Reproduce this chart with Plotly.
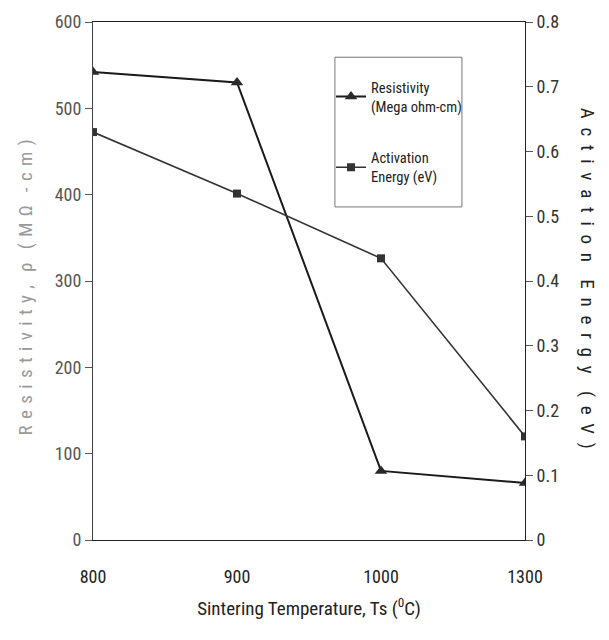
import plotly.graph_objects as go

# ---- data ----
temperatures = ["800", "900", "1000", "1300"]
resistivity = [542, 530, 80, 66]                 # Mega ohm-cm (left axis)
activation_energy = [0.63, 0.535, 0.435, 0.16]   # eV (right axis)
left_ticks = [0, 100, 200, 300, 400, 500, 600]
right_ticks = [0, 0.1, 0.2, 0.3, 0.4, 0.5, 0.6, 0.7, 0.8]

FONT = "Liberation Sans Narrow, Arial Narrow, Roboto Condensed, Roboto, Liberation Sans, Arial, sans-serif"
xpos = list(range(len(temperatures)))


def spaced(text, gap, word_gap):
    """Letter-spaced text (mimics the spaced-out axis titles of the scan)."""
    words = text.split(" ")
    return word_gap.join(gap.join(list(w)) for w in words)


left_title = spaced("Resistivity, ρ (MΩ -cm)", "\u00a0\u200a", "\u00a0\u00a0\u00a0")
right_title = spaced("Activation Energy (eV)", "\u00a0\u00a0", "\u00a0\u00a0\u00a0\u00a0")

fig = go.Figure()
fig.add_trace(go.Scatter(
    x=xpos, y=resistivity, mode="lines+markers",
    name="Resistivity<br>(Mega ohm-cm)", legendgroup="a",
    line=dict(color="#1a1a1a", width=2),
    marker=dict(symbol="triangle-up", size=11, color="#2a2a2a"),
    yaxis="y",
))
fig.add_trace(go.Scatter(
    x=xpos, y=activation_energy, mode="lines+markers",
    name="Activation<br>Energy (eV)", legendgroup="b",
    line=dict(color="#333333", width=1.6),
    marker=dict(symbol="square", size=8, color="#333333"),
    yaxis="y2",
))

fig.update_layout(
    width=609, height=640,
    margin=dict(l=93, r=84, t=22, b=100),
    paper_bgcolor="white", plot_bgcolor="white",
    font=dict(family=FONT, size=16, color="#333"),
    showlegend=True,
    legend=dict(
        x=0.551, y=0.905, xanchor="left", yanchor="top",
        borderwidth=0, bgcolor="rgba(0,0,0,0)",
        font=dict(family=FONT, size=14.5, color="#222"),
        tracegroupgap=30, itemwidth=30,
    ),
    shapes=[dict(type="rect", xref="paper", yref="paper",
                 x0=0.560, x1=0.854, y0=0.643, y1=0.932,
                 line=dict(color="#777", width=1), fillcolor="rgba(0,0,0,0)",
                 layer="below")],
    xaxis=dict(
        range=[0, 3], tickmode="array", tickvals=xpos, ticktext=temperatures,
        showline=True, linecolor="#222", linewidth=1, mirror=True,
        ticks="", showgrid=False, zeroline=False,
        ticklabelstandoff=20,
        tickfont=dict(family=FONT, size=18, color="#222"),
        title=dict(text="Sintering Temperature, Ts (<sup>0</sup>C)",
                   font=dict(family=FONT, size=19, color="#222"), standoff=16),
    ),
    yaxis=dict(
        range=[0, 600], tickmode="array", tickvals=left_ticks,
        showline=True, linecolor="#444", linewidth=1,
        ticks="outside", ticklen=7, tickcolor="#555",
        showgrid=False, zeroline=False,
        tickfont=dict(family=FONT, size=18, color="#555"),
    ),
    yaxis2=dict(
        range=[0, 0.8], tickmode="array", tickvals=right_ticks,
        overlaying="y", side="right",
        showline=True, linecolor="#222", linewidth=1,
        ticks="outside", ticklen=7, tickcolor="#555",
        showgrid=False, zeroline=False,
        tickfont=dict(family=FONT, size=18, color="#333"),
    ),
    annotations=[
        dict(text=left_title,
             xref="paper", yref="paper", x=-0.157, y=0.488,
             xanchor="center", yanchor="middle", textangle=-90, showarrow=False,
             font=dict(family=FONT, size=19, color="#999")),
        dict(text=right_title,
             xref="paper", yref="paper", x=1.145, y=0.505,
             xanchor="center", yanchor="middle", textangle=90, showarrow=False,
             font=dict(family=FONT, size=19, color="#222")),
    ],
)

fig.write_html("out.html")
